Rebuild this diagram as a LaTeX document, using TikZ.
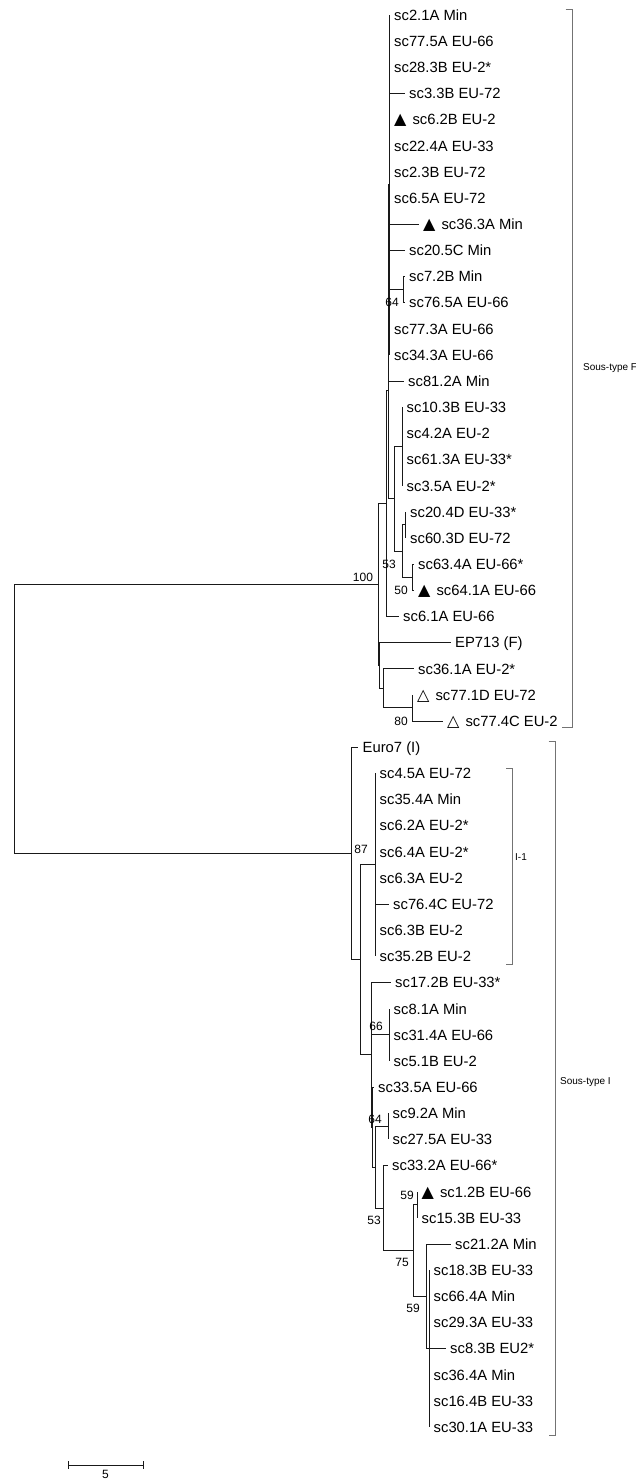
\documentclass[tikz,border=0pt]{standalone}
\usepackage{fontspec}
\setmainfont{Liberation Sans}
\newfontfamily\symfont{DejaVu Sans}
\newcommand{\triFull}{{\symfont\fontsize{16}{16}\selectfont ▲}\hspace{6pt}}
\newcommand{\triOpen}{{\symfont\fontsize{16}{16}\selectfont △}\hspace{6pt}}
\tikzset{
  leaf/.style={anchor=west, inner xsep=4.5pt, inner ysep=0pt, text height=10.6pt, text depth=0pt, font=\fontsize{14.8}{16}\selectfont},
  boot/.style={inner sep=0pt, font=\fontsize{12}{14}\selectfont},
  branch/.style={draw=black!90, line width=1pt},
  cladebar/.style={draw=black!55, line width=1pt},
  cladename/.style={anchor=west, inner sep=0pt, font=\fontsize{10}{12}\selectfont},
}
\begin{document}
\begin{tikzpicture}[x=1pt, y=-1pt]
\useasboundingbox (0,0) rectangle (636,1479);
% leaf rows are 26.15pt apart, the first one 15pt below the top
\begin{scope}[y=-26.15pt, yshift=11.15pt]
  % Sous-type F leaves
  \node[leaf] (l01) at (389.5,1) {sc2.1A Min};
  \node[leaf] (l02) at (389.5,2) {sc77.5A EU-66};
  \node[leaf] (l03) at (389.5,3) {sc28.3B EU-2*};
  \node[leaf] (l04) at (404.5,4) {sc3.3B EU-72};
  \node[leaf] (l05) at (389.5,5) {\triFull sc6.2B EU-2};
  \node[leaf] (l06) at (389.5,6) {sc22.4A EU-33};
  \node[leaf] (l07) at (389.5,7) {sc2.3B EU-72};
  \node[leaf] (l08) at (389.5,8) {sc6.5A EU-72};
  \node[leaf] (l09) at (418.5,9) {\triFull sc36.3A Min};
  \node[leaf] (l10) at (404.5,10) {sc20.5C Min};
  \node[leaf] (l11) at (404.5,11) {sc7.2B Min};
  \node[leaf] (l12) at (404.5,12) {sc76.5A EU-66};
  \node[leaf] (l13) at (389.5,13) {sc77.3A EU-66};
  \node[leaf] (l14) at (389.5,14) {sc34.3A EU-66};
  \node[leaf] (l15) at (403.5,15) {sc81.2A Min};
  \node[leaf] (l16) at (402,16) {sc10.3B EU-33};
  \node[leaf] (l17) at (402,17) {sc4.2A EU-2};
  \node[leaf] (l18) at (402,18) {sc61.3A EU-33*};
  \node[leaf] (l19) at (402,19) {sc3.5A EU-2*};
  \node[leaf] (l20) at (405.5,20) {sc20.4D EU-33*};
  \node[leaf] (l21) at (405.5,21) {sc60.3D EU-72};
  \node[leaf] (l22) at (413.5,22) {sc63.4A EU-66*};
  \node[leaf] (l23) at (413.5,23) {\triFull sc64.1A EU-66};
  \node[leaf] (l24) at (398.5,24) {sc6.1A EU-66};
  \node[leaf] (l25) at (450.5,25) {EP713 (F)};
  \node[leaf] (l26) at (413.5,26) {sc36.1A EU-2*};
  \node[leaf] (l27) at (412.5,27) {\triOpen sc77.1D EU-72};
  \node[leaf] (l28) at (442.5,28) {\triOpen sc77.4C EU-2};
  % Sous-type I leaves
  \node[leaf] (l29) at (358,29) {Euro7 (I)};
  \node[leaf] (l30) at (375,30) {sc4.5A EU-72};
  \node[leaf] (l31) at (375,31) {sc35.4A Min};
  \node[leaf] (l32) at (375,32) {sc6.2A EU-2*};
  \node[leaf] (l33) at (375,33) {sc6.4A EU-2*};
  \node[leaf] (l34) at (375,34) {sc6.3A EU-2};
  \node[leaf] (l35) at (388.5,35) {sc76.4C EU-72};
  \node[leaf] (l36) at (375,36) {sc6.3B EU-2};
  \node[leaf] (l37) at (375,37) {sc35.2B EU-2};
  \node[leaf] (l38) at (390.5,38) {sc17.2B EU-33*};
  \node[leaf] (l39) at (389,39) {sc8.1A Min};
  \node[leaf] (l40) at (389,40) {sc31.4A EU-66};
  \node[leaf] (l41) at (389,41) {sc5.1B EU-2};
  \node[leaf] (l42) at (373.5,42) {sc33.5A EU-66};
  \node[leaf] (l43) at (388,43) {sc9.2A Min};
  \node[leaf] (l44) at (388,44) {sc27.5A EU-33};
  \node[leaf] (l45) at (387.5,45) {sc33.2A EU-66*};
  \node[leaf] (l46) at (417,46) {\triFull sc1.2B EU-66};
  \node[leaf] (l47) at (417,47) {sc15.3B EU-33};
  \node[leaf] (l48) at (450.5,48) {sc21.2A Min};
  \node[leaf] (l49) at (429,49) {sc18.3B EU-33};
  \node[leaf] (l50) at (429,50) {sc66.4A Min};
  \node[leaf] (l51) at (429,51) {sc29.3A EU-33};
  \node[leaf] (l52) at (445.5,52) {sc8.3B EU2*};
  \node[leaf] (l53) at (429,53) {sc36.4A Min};
  \node[leaf] (l54) at (429,54) {sc16.4B EU-33};
  \node[leaf] (l55) at (429,55) {sc30.1A EU-33};
  % inner nodes of F
  \coordinate (nZ) at (389.5,7.5);
  \coordinate (nY) at (388.5,11.25);
  \coordinate (nX) at (388,15.375);
  \coordinate (nU) at (386.5,19.6875);
  \coordinate (n64) at (403,11.5);
  \coordinate (nH) at (394,19.5);
  \coordinate (nG) at (402,17.5);
  \coordinate (nJ) at (402,21.5);
  \coordinate (nK) at (405.5,20.5);
  \coordinate (n50) at (412.5,22.5);
  \coordinate (nS) at (379,25.875);
  \coordinate (nR) at (383,26.75);
  \coordinate (n80) at (412.5,27.5);
  \coordinate (nF) at (378,22.78125);
  % inner nodes of I
  \coordinate (nI11) at (375,33.5);
  \coordinate (n66) at (389,40);
  \coordinate (n9) at (388,43.5);
  \coordinate (n59a) at (417,46.5);
  \coordinate (nB) at (429,52);
  \coordinate (n59b) at (426,50);
  \coordinate (n75) at (413,48.25);
  \coordinate (n53) at (383,46.625);
  \coordinate (n375) at (375,45.0625);
  \coordinate (nQ) at (372,43.53125);
  \coordinate (nP) at (371,40.765625);
  \coordinate (nI2) at (360,37.1328);
  \coordinate (nI1) at (351,33.0664);
  \coordinate (nRoot) at (14,27.9238);
  % branches
  \draw[branch] (nRoot) |- (nF) (nRoot) |- (nI1);
  \draw[branch] (nF) |- (nU) (nF) |- (nS);
  \draw[branch] (nU) |- (nX) (nU) |- (l24.west);
  \draw[branch] (nX) |- (nY) (nX) |- (nH);
  \draw[branch] (nY) |- (nZ) (nY) |- (l15.west);
  \draw[branch] (nZ) |- (l01.west) (nZ) |- (l02.west) (nZ) |- (l03.west) (nZ) |- (l04.west)
    (nZ) |- (l05.west) (nZ) |- (l06.west) (nZ) |- (l07.west) (nZ) |- (l08.west)
    (nZ) |- (l09.west) (nZ) |- (l10.west) (nZ) |- (n64) (nZ) |- (l13.west) (nZ) |- (l14.west);
  \draw[branch] (n64) |- (l11.west) (n64) |- (l12.west);
  \draw[branch] (nH) |- (nG) (nH) |- (nJ);
  \draw[branch] (nG) |- (l16.west) (nG) |- (l17.west) (nG) |- (l18.west) (nG) |- (l19.west);
  \draw[branch] (nJ) |- (nK) (nJ) |- (n50);
  \draw[branch] (nK) |- (l20.west) (nK) |- (l21.west);
  \draw[branch] (n50) |- (l22.west) (n50) |- (l23.west);
  \draw[branch] (nS) |- (l25.west) (nS) |- (nR);
  \draw[branch] (nR) |- (l26.west) (nR) |- (n80);
  \draw[branch] (n80) |- (l27.west) (n80) |- (l28.west);
  \draw[branch] (nI1) |- (l29.west) (nI1) |- (nI2);
  \draw[branch] (nI2) |- (nI11) (nI2) |- (nP);
  \draw[branch] (nI11) |- (l30.west) (nI11) |- (l31.west) (nI11) |- (l32.west) (nI11) |- (l33.west)
    (nI11) |- (l34.west) (nI11) |- (l35.west) (nI11) |- (l36.west) (nI11) |- (l37.west);
  \draw[branch] (nP) |- (l38.west) (nP) |- (n66) (nP) |- (nQ);
  \draw[branch] (n66) |- (l39.west) (n66) |- (l40.west) (n66) |- (l41.west);
  \draw[branch] (nQ) |- (l42.west) (nQ) |- (n375);
  \draw[branch] (n375) |- (n9) (n375) |- (n53);
  \draw[branch] (n9) |- (l43.west) (n9) |- (l44.west);
  \draw[branch] (n53) |- (l45.west) (n53) |- (n75);
  \draw[branch] (n75) |- (n59a) (n75) |- (n59b);
  \draw[branch] (n59a) |- (l46.west) (n59a) |- (l47.west);
  \draw[branch] (n59b) |- (l48.west) (n59b) |- (nB);
  \draw[branch] (nB) |- (l49.west) (nB) |- (l50.west) (nB) |- (l51.west) (nB) |- (l52.west)
    (nB) |- (l53.west) (nB) |- (l54.west) (nB) |- (l55.west);
\end{scope}
% bootstrap values
\node[boot] (b100) at (363,577) {100};
\node[boot] (b64f) at (392,302) {64};
\node[boot] (b53f) at (389,564) {53};
\node[boot] (b50) at (401,590) {50};
\node[boot] (b80) at (401,721) {80};
\node[boot] (b87) at (361,849) {87};
\node[boot] (b66) at (376,1026) {66};
\node[boot] (b64i) at (375,1119) {64};
\node[boot] (b59a) at (407,1195) {59};
\node[boot] (b53i) at (374,1220) {53};
\node[boot] (b75) at (402,1262) {75};
\node[boot] (b59b) at (413,1308) {59};
% clade marks
\draw[cladebar] (565.5,10) -- (572.5,10) -- (572.5,727) -- (562,727);
\node[cladename] (sousF) at (583,368) {Sous-type F};
\draw[cladebar] (548.5,741) -- (555.5,741) -- (555.5,1435) -- (548.5,1435);
\node[cladename] (sousI) at (560,1082) {Sous-type I};
\draw[cladebar] (506,768) -- (512,768) -- (512,964) -- (506,964);
\node[cladename] (i1) at (515,857) {I-1};
% scale bar
\draw[branch] (68,1461) -- (68,1469) (68,1465) -- (143,1465) (143,1461) -- (143,1469);
\node[boot, anchor=north] (scale) at (105.5,1470) {5};
\end{tikzpicture}
\end{document}
